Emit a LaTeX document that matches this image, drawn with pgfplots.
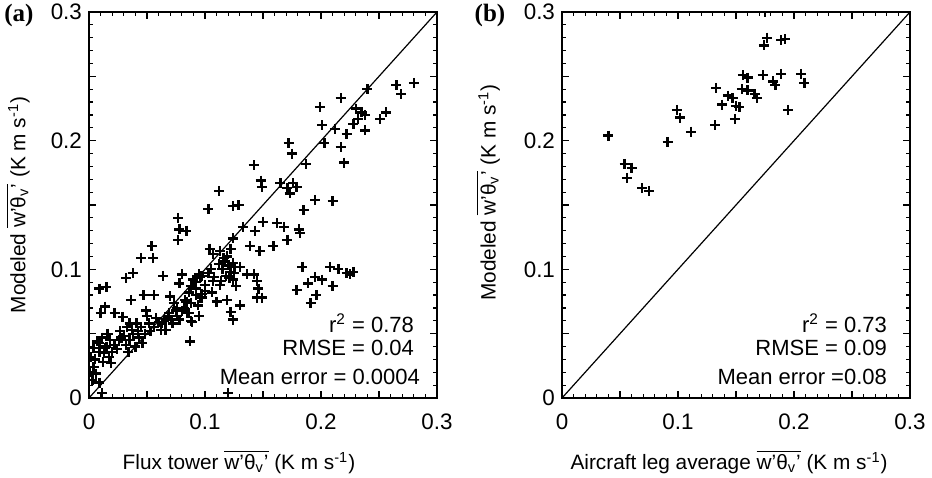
\documentclass[border=0pt]{standalone}
\usepackage{amsmath}
\usepackage{pgfplots}
\pgfplotsset{compat=1.18}
\usepackage{fontspec}
\setmainfont{Liberation Sans}
\newfontfamily\serifbf{Liberation Serif}
\newcommand{\wth}{$\overline{\text{w'θ}_{\text{v}}\text{'}}$}

\pgfplotstableread{
x y
0.280 0.245
0.265 0.243
0.269 0.236
0.240 0.240
0.217 0.233
0.199 0.226
0.201 0.212
0.230 0.225
0.235 0.222
0.238 0.220
0.232 0.217
0.228 0.213
0.256 0.222
0.251 0.217
0.238 0.208
0.212 0.209
0.222 0.205
0.203 0.198
0.217 0.195
0.220 0.183
0.172 0.198
0.175 0.190
0.187 0.182
0.142 0.181
0.148 0.169
0.149 0.164
0.165 0.167
0.171 0.163
0.176 0.167
0.179 0.164
0.173 0.159
0.195 0.154
0.210 0.153
0.185 0.146
0.112 0.161
0.103 0.147
0.124 0.149
0.129 0.150
0.077 0.140
0.078 0.131
0.084 0.130
0.077 0.123
0.133 0.133
0.150 0.137
0.143 0.130
0.124 0.124
0.139 0.118
0.147 0.114
0.162 0.136
0.168 0.133
0.159 0.118
0.171 0.123
0.181 0.131
0.182 0.128
0.054 0.118
0.055 0.109
0.045 0.109
0.038 0.097
0.032 0.093
0.064 0.095
0.009 0.085
0.015 0.086
0.080 0.096
0.078 0.089
0.095 0.096
0.096 0.094
0.090 0.092
0.088 0.087
0.104 0.116
0.107 0.112
0.113 0.114
0.116 0.109
0.119 0.110
0.122 0.116
0.124 0.105
0.126 0.102
0.122 0.098
0.130 0.102
0.107 0.091
0.113 0.088
0.114 0.091
0.124 0.092
0.127 0.087
0.110 0.075
0.119 0.076
0.130 0.072
0.122 0.067
0.124 0.061
0.136 0.096
0.142 0.096
0.145 0.091
0.146 0.085
0.145 0.078
0.149 0.078
0.097 0.081
0.096 0.078
0.094 0.072
0.084 0.075
0.076 0.070
0.085 0.066
0.088 0.060
0.087 0.044
0.120 0.004
0.184 0.102
0.179 0.084
0.189 0.089
0.195 0.094
0.201 0.092
0.196 0.080
0.191 0.074
0.210 0.087
0.208 0.102
0.215 0.100
0.222 0.097
0.228 0.098
0.225 0.096
0.036 0.076
0.047 0.080
0.056 0.080
0.070 0.079
0.014 0.071
0.010 0.066
0.022 0.066
0.029 0.063
0.049 0.068
0.050 0.064
0.041 0.058
0.035 0.058
0.037 0.053
0.052 0.058
0.056 0.055
0.060 0.059
0.066 0.061
0.069 0.066
0.075 0.068
0.073 0.074
0.083 0.076
0.086 0.082
0.092 0.080
0.097 0.078
0.100 0.083
0.106 0.082
0.086 0.066
0.089 0.059
0.095 0.064
0.035 0.045
0.026 0.045
0.028 0.047
0.043 0.047
0.046 0.043
0.040 0.040
0.032 0.041
0.011 0.047
0.009 0.043
0.014 0.039
0.020 0.036
0.017 0.032
0.013 0.035
0.022 0.041
0.009 0.036
0.004 0.039
0.019 0.027
0.004 0.024
0.001 0.020
0.006 0.019
0.003 0.014
0.009 0.012
0.011 0.004
0.034 0.036
0.062 0.053
0.066 0.053
0.072 0.058
0.078 0.061
0.080 0.068
0.115 0.100
0.118 0.095
0.120 0.103
0.117 0.106
0.125 0.097
0.112 0.104
0.121 0.093
0.092 0.090
0.097 0.095
0.100 0.088
0.103 0.097
0.108 0.094
0.105 0.100
0.005 0.030
0.012 0.028
0.015 0.040
0.018 0.045
0.024 0.038
0.027 0.052
0.030 0.048
0.033 0.055
0.038 0.050
0.042 0.052
0.045 0.055
0.048 0.050
0.053 0.052
0.058 0.062
0.063 0.058
0.068 0.063
0.071 0.061
0.076 0.064
0.082 0.070
0.088 0.074
0.092 0.085
0.007 0.044
0.016 0.050
0.002 0.032
}\dataA

\pgfplotstableread{
x y
0.040 0.204
0.054 0.182
0.060 0.179
0.056 0.171
0.069 0.163
0.075 0.161
0.091 0.199
0.099 0.224
0.102 0.218
0.111 0.207
0.132 0.212
0.133 0.241
0.143 0.235
0.147 0.233
0.138 0.228
0.150 0.227
0.153 0.226
0.149 0.217
0.155 0.240
0.156 0.251
0.160 0.249
0.160 0.239
0.166 0.236
0.168 0.233
0.173 0.251
0.174 0.274
0.177 0.280
0.189 0.278
0.192 0.279
0.189 0.252
0.182 0.246
0.184 0.243
0.195 0.224
0.206 0.252
0.209 0.245
0.175 0.300
}\dataB

\pgfplotsset{myax/.style={
  scale only axis, width=174pt, height=193pt,
  xmin=0, xmax=0.3, ymin=0, ymax=0.3,
  xtick={0,0.05,0.1,0.15,0.2,0.25,0.3},
  ytick={0,0.05,0.1,0.15,0.2,0.25,0.3},
  xticklabels={0,,0.1,,0.2,,0.3},
  yticklabels={0,,0.1,,0.2,,0.3},
  minor tick num=4,
  tick align=inside, xtick pos=both, ytick pos=both,
  major tick length=3.5pt, minor tick length=1.8pt,
  axis line style={line width=0.7pt},
  every tick/.style={black, line width=0.6pt},
  clip marker paths=true,
  /pgf/number format/assume math mode=true,
  ticklabel style={font=\fontsize{11.2}{13}\selectfont},
  xticklabel style={yshift=-4.5pt},
  label style={font=\fontsize{10.4}{12}\selectfont},
}}
\tikzset{ann/.style={anchor=east, font=\fontsize{11}{13}\selectfont}}

\begin{document}
\begin{tikzpicture}
\useasboundingbox (0,0) rectangle (466pt,238.5pt);
\begin{axis}[myax, at={(44.5pt,39.5pt)}, anchor=south west,
  xlabel={Flux tower \wth\ (K m s\textsuperscript{-1})},
  ylabel={Modeled \wth\ (K m s\textsuperscript{-1})},
  xlabel style={at={(axis description cs:0.431,-0.166)}, anchor=center},
  ylabel style={at={(axis description cs:-0.204,0.5)}, anchor=center}]
\addplot[black, line width=0.6pt] coordinates {(0,0) (0.3,0.3)};
\addplot[only marks, mark=+, mark size=2.5pt, mark options={line width=1.15pt, black}] table[x=x,y=y] {\dataA};
\node[ann] at (rel axis cs:0.954,0.194) {r\textsuperscript{2} = 0.78};
\node[ann] at (rel axis cs:0.954,0.130) {RMSE = 0.04};
\node[ann] at (rel axis cs:0.971,0.054) {Mean error = 0.0004};
\end{axis}
\begin{axis}[myax, at={(281pt,39.5pt)}, anchor=south west,
  xlabel={Aircraft leg average \wth\ (K m s\textsuperscript{-1})},
  ylabel={Modeled \wth\ (K m s\textsuperscript{-1})},
  xlabel style={at={(axis description cs:0.480,-0.166)}, anchor=center},
  ylabel style={at={(axis description cs:-0.212,0.532)}, anchor=center}]
\addplot[black, line width=0.6pt] coordinates {(0,0) (0.3,0.3)};
\addplot[only marks, mark=+, mark size=2.5pt, mark options={line width=1.15pt, black}] table[x=x,y=y] {\dataB};
\node[ann] at (rel axis cs:0.954,0.194) {r\textsuperscript{2} = 0.73};
\node[ann] at (rel axis cs:0.954,0.130) {RMSE = 0.09};
\node[ann] at (rel axis cs:0.954,0.054) {Mean error =0.08};
\end{axis}
\node[font=\serifbf\bfseries\fontsize{12.5}{14}\selectfont] at (9.5pt,231pt) {(a)};
\node[font=\serifbf\bfseries\fontsize{12.5}{14}\selectfont] at (245pt,231pt) {(b)};
\end{tikzpicture}
\end{document}
